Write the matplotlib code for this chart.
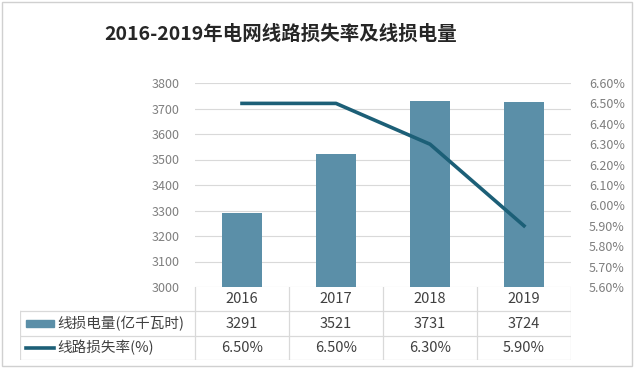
import matplotlib.pyplot as plt
from matplotlib.patches import Rectangle

plt.rcParams['font.family'] = ['Noto Sans CJK SC', 'DejaVu Sans']

# data
years = ['2016', '2017', '2018', '2019']
loss_energy = [3291, 3521, 3731, 3724]      # 亿千瓦时
loss_rate = [6.50, 6.50, 6.30, 5.90]        # %
energy_label = '线损电量(亿千瓦时)'
rate_label = '线路损失率(%)'
title = '2016-2019年电网线路损失率及线损电量'

bar_color = '#5b8fa8'
line_color = '#1c5f77'
grid_color = '#d9d9d9'
tick_color = '#7f7f7f'
text_color = '#404040'

W, H = 634, 368
fig = plt.figure(figsize=(W / 100, H / 100), dpi=100)


def box(l, t, r, b):
    # pixel box -> figure fraction
    return [l / W, 1 - b / H, (r - l) / W, (b - t) / H]


# main chart
ax = fig.add_axes(box(195, 83, 571, 287))
x = list(range(len(years)))
ax.bar(x, loss_energy, width=0.43, color=bar_color, zorder=2)
ax.set_xlim(-0.5, len(years) - 0.5)
ax.set_ylim(3000, 3800)
ax.set_yticks(range(3000, 3801, 100))
ax.set_xticks([])
ax.grid(axis='y', color=grid_color, lw=0.8, zorder=0)
for s in ax.spines.values():
    s.set_visible(False)
ax.tick_params(axis='y', length=0, colors=tick_color, labelsize=9, pad=11)

ax2 = ax.twinx()
ax2.plot(x, loss_rate, color=line_color, lw=2.6, zorder=3)
ax2.set_ylim(5.6, 6.6)
ax2.set_yticks([5.6 + 0.1 * i for i in range(11)])
ax2.yaxis.set_major_formatter(lambda v, p: f'{v:.2f}%')
for s in ax2.spines.values():
    s.set_visible(False)
ax2.tick_params(axis='y', length=0, colors=tick_color, labelsize=9, pad=13)

# data table below the chart
tab = fig.add_axes(box(20, 287, 571, 360))
left = -0.5 - (195 - 20) / 94
right = len(years) - 0.5
tab.set_xlim(left, right)
tab.set_ylim(3, 0)
tab.axis('off')

lc = dict(color=grid_color, lw=0.9)
for i in range(len(years) + 1):
    tab.plot([i - 0.5, i - 0.5], [0, 3], **lc)
tab.plot([left, left], [1, 3], **lc)
for r in (1, 2, 3):
    tab.plot([left, right], [r, r], **lc)

for i, yr in enumerate(years):
    tab.text(i, 0.5, yr, ha='center', va='center', fontsize=10.5, color=text_color)
    tab.text(i, 1.5, f'{loss_energy[i]}', ha='center', va='center', fontsize=10.5, color=text_color)
    tab.text(i, 2.5, f'{loss_rate[i]:.2f}%', ha='center', va='center', fontsize=10.5, color=text_color)

tab.add_patch(Rectangle((left + 0.06, 1.35), 0.3, 0.3, color=bar_color))
tab.plot([left + 0.06, left + 0.36], [2.5, 2.5], color=line_color, lw=2.6)
tab.text(left + 0.4, 1.5, energy_label, va='center', fontsize=10.5, color=text_color)
tab.text(left + 0.4, 2.5, rate_label, va='center', fontsize=10.5, color=text_color)

fig.text(281 / W, 1 - 34 / H, title, ha='center', va='center',
         fontsize=14, fontweight='bold', color='#262626')

fig.patches.append(Rectangle((0.003, 0.005), 0.994, 0.99, transform=fig.transFigure,
                             fill=False, edgecolor='#d0d0d0', lw=1))

fig.savefig('out.png', dpi=100)
